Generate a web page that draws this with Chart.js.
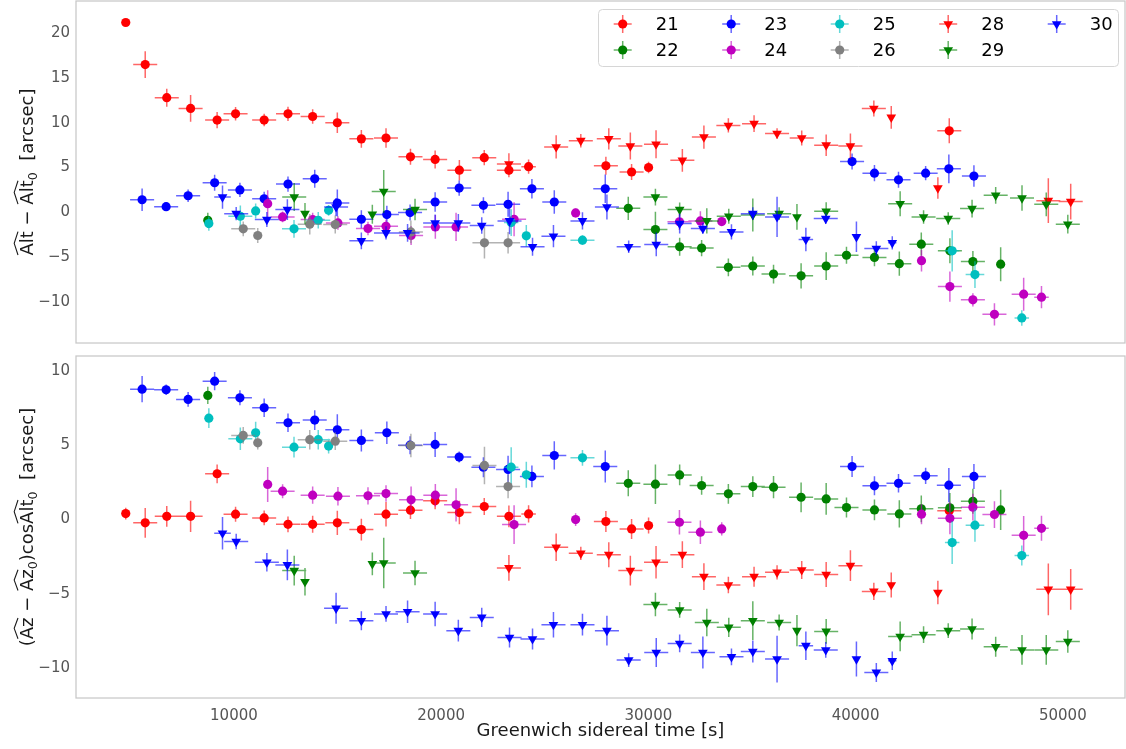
<!DOCTYPE html>
<html>
<head>
<meta charset="utf-8">
<title>Alt / Az residuals vs GST</title>
<script src="https://cdn.jsdelivr.net/npm/chart.js@4.4.1/dist/chart.umd.min.js"></script>
<style>
  html, body { margin: 0; padding: 0; background: #ffffff; }
  #wrap { position: relative; width: 1126px; height: 749px; overflow: hidden; }
  canvas { position: absolute; left: 0; }
</style>
</head>
<body>
<div id="wrap">
  <canvas id="altChart" width="1126" height="349" style="top:0"></canvas>
  <canvas id="azChart" width="1126" height="400" style="top:349px"></canvas>
</div>
<script>
// ---- data ----
const gstTicks = [10000, 20000, 30000, 40000, 50000]
const altTicks = [-10, -5, 0, 5, 10, 15, 20]
const azTicks = [-10, -5, 0, 5, 10]

const gst21 = [4780, 5720, 6760, 7910, 9190, 10080, 11460, 12610, 13800, 14990, 16150, 17340, 18520, 19710, 20880, 22080, 23270, 24220, 27950, 29190, 30010, 44520]
const gstErr21 = [100, 580, 580, 580, 580, 580, 580, 580, 580, 580, 580, 580, 580, 580, 580, 580, 580, 350, 580, 580, 100, 580]
const alt21 = [21.2, 16.5, 12.8, 11.6, 10.3, 11.0, 10.3, 11.0, 10.7, 10.0, 8.2, 8.3, 6.2, 5.9, 4.7, 6.1, 4.7, 5.1, 5.2, 4.5, 5.0, 9.1]
const altErr21 = [0.3, 1.5, 1.0, 1.5, 0.9, 0.75, 0.7, 0.8, 0.8, 1.15, 1.0, 1.1, 0.9, 1.0, 1.15, 0.85, 0.8, 0.8, 1.0, 0.9, 0.65, 1.4]
const az21 = [0.4, -0.22, 0.22, 0.22, 3.08, 0.36, 0.11, -0.32, -0.32, -0.22, -0.67, 0.36, 0.63, 1.26, 0.47, 0.88, 0.22, 0.38, -0.13, -0.63, -0.4, 0.6]
const azErr21 = [0.4, 1.0, 0.7, 1.05, 0.63, 0.5, 0.5, 0.53, 0.57, 0.82, 0.73, 0.82, 0.6, 0.56, 0.79, 0.57, 0.73, 0.58, 0.7, 0.67, 0.54, 0.5]

const gst22 = [8740, 29030, 30340, 31510, 32570, 33860, 35040, 36040, 37370, 38580, 39560, 40910, 42110, 43170, 44550, 45660, 47000]
const gstErr22 = [100, 580, 580, 580, 580, 580, 580, 580, 580, 580, 580, 580, 580, 580, 580, 580, 100]
const alt22 = [-0.89, 0.44, -1.93, -3.85, -4.0, -6.15, -6.0, -6.9, -7.1, -6.0, -4.8, -5.04, -5.74, -3.56, -4.3, -5.5, -5.8]
const altErr22 = [0.83, 1.3, 2.0, 1.0, 0.9, 1.0, 1.07, 1.05, 1.4, 1.55, 0.96, 1.0, 1.35, 1.3, 1.4, 1.17, 1.9]
const az22 = [8.35, 2.44, 2.38, 3.0, 2.29, 1.73, 2.22, 2.18, 1.5, 1.39, 0.81, 0.65, 0.38, 0.72, 0.79, 1.23, 0.65]
const azErr22 = [0.58, 0.88, 1.33, 0.7, 0.62, 0.67, 0.7, 0.75, 1.0, 1.07, 0.67, 0.7, 0.92, 0.9, 1.0, 0.84, 1.35]

const gst23 = [5570, 6730, 7790, 9070, 10290, 11460, 12610, 13900, 14990, 16150, 17380, 18500, 19710, 20870, 22040, 23230, 24380, 25460, 27920, 39830, 40910, 42070, 43380, 44500, 45710]
const gstErr23 = 580
const alt23 = [1.4, 0.63, 1.85, 3.3, 2.5, 1.5, 3.15, 3.74, 1.04, -0.78, -0.26, -0.03, 1.15, 2.7, 0.78, 0.89, 2.63, 1.15, 2.63, 5.67, 4.37, 3.63, 4.37, 4.85, 4.04]
const altErr23 = [1.25, 0.5, 0.7, 0.9, 0.8, 0.8, 0.85, 1.0, 1.5, 1.0, 1.0, 0.9, 1.1, 0.85, 0.9, 1.4, 1.1, 1.3, 1.6, 0.9, 0.9, 0.9, 0.8, 1.6, 1.2]
const az23 = [8.77, 8.73, 8.08, 9.31, 8.19, 7.52, 6.51, 6.69, 6.04, 5.32, 5.84, 5.0, 5.05, 4.2, 3.52, 3.37, 2.9, 4.31, 3.57, 3.57, 2.27, 2.44, 2.94, 2.31, 2.9]
const azErr23 = [0.88, 0.35, 0.5, 0.62, 0.5, 0.62, 0.62, 0.67, 1.05, 0.74, 0.75, 0.6, 0.84, 0.37, 0.67, 0.92, 0.73, 0.95, 1.07, 0.7, 0.64, 0.62, 0.54, 1.15, 0.84]

const gst24 = [11630, 12350, 13800, 15020, 16470, 17340, 18550, 19720, 20720, 23520, 26490, 31500, 32510, 33540, 43180, 44550, 45660, 46700, 48110, 48970]
const gstErr24 = [100, 580, 580, 580, 580, 580, 580, 580, 580, 580, 100, 580, 580, 100, 100, 580, 580, 580, 580, 350]
const alt24 = [0.96, -0.52, -0.81, -1.19, -1.81, -1.56, -2.59, -1.63, -1.63, -0.78, -0.07, -1.07, -0.96, -1.04, -5.41, -8.3, -9.78, -11.4, -9.15, -9.48]
const altErr24 = [1.5, 0.6, 0.75, 0.75, 0.75, 0.75, 1.07, 1.33, 1.57, 1.9, 0.5, 0.9, 1.07, 0.4, 1.2, 1.7, 0.75, 1.25, 1.85, 1.24]
const az24 = [2.36, 1.91, 1.64, 1.57, 1.6, 1.75, 1.33, 1.64, 0.99, -0.34, 0.0, -0.18, -0.85, -0.63, 0.36, 0.09, 0.83, 0.34, -1.06, -0.59]
const azErr24 = [1.18, 0.47, 0.58, 0.62, 0.58, 0.56, 0.9, 0.76, 1.12, 1.3, 0.43, 0.83, 0.79, 0.45, 0.67, 1.07, 0.9, 0.9, 1.3, 0.84]

const gst25 = [8790, 10310, 11050, 12900, 14070, 14570, 23380, 24110, 26820, 44660, 45760, 48020]
const gstErr25 = [100, 580, 100, 580, 580, 100, 350, 100, 580, 350, 450, 350]
const alt25 = [-1.26, -0.44, 0.15, -1.85, -0.89, 0.22, -1.15, -2.63, -3.11, -4.3, -6.96, -11.8]
const altErr25 = [0.8, 1.2, 0.83, 1.0, 0.93, 0.6, 1.5, 1.2, 0.55, 2.3, 1.5, 0.87]
const az25 = [6.82, 5.43, 5.84, 4.87, 5.37, 4.94, 3.52, 3.01, 4.15, -1.55, -0.38, -2.42]
const azErr25 = [0.67, 0.76, 0.73, 0.7, 0.65, 0.5, 1.35, 0.87, 0.53, 1.44, 1.12, 0.67]

const gst26 = [10450, 11150, 13660, 14890, 18540, 22090, 23230]
const gstErr26 = [580, 100, 580, 580, 580, 580, 580]
const alt26 = [-1.85, -2.59, -1.33, -1.37, -2.19, -3.41, -3.41]
const altErr26 = [0.83, 0.83, 1.15, 1.0, 1.26, 1.76, 1.2]
const az26 = [5.66, 5.16, 5.37, 5.27, 4.98, 3.64, 2.22]
const azErr26 = [0.56, 0.45, 0.65, 0.6, 0.79, 1.26, 0.79]

const gst28 = [23270, 25550, 26740, 28090, 29130, 30370, 31640, 32680, 33860, 35100, 36210, 37400, 38580, 39750, 40880, 41720, 43970, 49300, 50380]
const gstErr28 = [580, 580, 580, 580, 580, 580, 580, 580, 580, 580, 580, 580, 580, 580, 580, 100, 100, 580, 580]
const alt28 = [5.4, 7.3, 8.0, 8.2, 7.4, 7.6, 5.8, 8.4, 9.7, 9.9, 8.8, 8.3, 7.5, 7.4, 11.6, 10.6, 2.7, 1.3, 1.2]
const altErr28 = [1.2, 1.3, 0.75, 1.2, 1.5, 1.57, 1.26, 1.3, 0.8, 0.93, 0.6, 0.83, 1.2, 1.4, 0.9, 1.26, 1.2, 2.5, 2.0]
const az28 = [-3.25, -1.86, -2.27, -2.36, -3.43, -2.87, -2.36, -3.84, -4.4, -3.84, -3.55, -3.39, -3.7, -3.1, -4.83, -4.4, -4.9, -4.69, -4.69]
const azErr28 = [0.86, 0.92, 0.45, 0.84, 1.0, 1.09, 0.9, 0.9, 0.56, 0.67, 0.48, 0.6, 0.84, 1.03, 0.58, 0.84, 0.79, 1.74, 1.37]

const gst29 = [12910, 13430, 16680, 17230, 18740, 30340, 31510, 32820, 33880, 35040, 36310, 37170, 38580, 42150, 43280, 44470, 45620, 46760, 48030, 49200, 50240]
const gstErr29 = [580, 100, 100, 580, 580, 580, 580, 580, 580, 580, 580, 100, 580, 580, 580, 580, 580, 580, 580, 580, 580]
const alt29 = [1.7, -0.15, -0.22, 2.33, 0.3, 1.7, 0.3, -0.96, -0.44, -0.3, -0.15, -0.52, 0.11, 0.96, -0.52, -0.7, 0.41, 1.89, 1.59, 0.89, -1.33]
const altErr29 = [1.57, 1.2, 1.05, 2.4, 1.2, 0.93, 0.8, 1.4, 0.83, 1.85, 0.7, 1.44, 1.0, 1.4, 0.75, 0.7, 1.0, 0.93, 1.43, 1.33, 1.05]
const az29 = [-3.43, -4.18, -2.98, -2.92, -3.59, -5.72, -6.08, -6.92, -7.25, -6.8, -6.92, -7.47, -7.52, -7.86, -7.74, -7.47, -7.36, -8.55, -8.77, -8.77, -8.2]
const azErr29 = [1.0, 0.93, 0.76, 1.7, 0.82, 0.79, 0.53, 0.93, 0.64, 1.3, 0.54, 1.05, 0.84, 1.0, 0.56, 0.5, 0.7, 0.67, 1.0, 1.0, 0.75]

const gst30 = [9450, 10110, 11590, 12580, 14930, 16150, 17340, 18380, 19710, 20830, 21960, 23300, 24410, 25420, 26820, 28000, 29050, 30380, 31510, 32630, 34010, 35040, 36210, 37600, 38560, 40040, 41000, 41770]
const gstErr30 = [400, 580, 580, 580, 580, 580, 580, 580, 580, 580, 580, 580, 580, 580, 580, 580, 580, 580, 580, 580, 580, 580, 580, 350, 580, 100, 580, 200]
const alt30 = [1.7, -0.15, -0.81, 0.3, 0.59, -3.19, -2.3, -2.3, -1.19, -1.19, -1.48, -0.96, -3.85, -2.67, -0.96, 0.59, -3.85, -3.59, -1.26, -1.81, -2.19, -0.15, -0.52, -3.04, -0.7, -2.74, -4.04, -3.41]
const altErr30 = [1.3, 0.75, 0.83, 1.17, 1.0, 0.93, 0.75, 1.0, 0.93, 1.0, 0.93, 1.5, 1.0, 1.24, 0.96, 1.4, 0.7, 1.33, 1.1, 0.6, 0.85, 0.7, 2.25, 1.3, 0.6, 1.7, 0.8, 0.74]
const az30 = [-0.92, -1.48, -2.87, -3.05, -5.97, -6.8, -6.35, -6.2, -6.35, -7.47, -6.58, -7.93, -8.03, -7.07, -7.07, -7.47, -9.45, -8.94, -8.33, -8.94, -9.23, -8.87, -9.38, -8.48, -8.77, -9.38, -10.28, -9.5]
const azErr30 = [1.1, 0.52, 0.62, 1.03, 1.04, 0.64, 0.53, 0.76, 0.82, 0.73, 0.65, 0.67, 0.7, 0.86, 0.73, 1.0, 0.46, 0.98, 0.6, 1.07, 0.56, 0.74, 1.57, 0.96, 0.53, 1.18, 0.64, 0.62]

// ---- series table ----
const series = [
  { label: '21', rgb: '255,0,0', tri: false, gst: gst21, gErr: gstErr21, alt: alt21, altErr: altErr21, az: az21, azErr: azErr21 },
  { label: '22', rgb: '0,128,0', tri: false, gst: gst22, gErr: gstErr22, alt: alt22, altErr: altErr22, az: az22, azErr: azErr22 },
  { label: '23', rgb: '0,0,255', tri: false, gst: gst23, gErr: gstErr23, alt: alt23, altErr: altErr23, az: az23, azErr: azErr23 },
  { label: '24', rgb: '191,0,191', tri: false, gst: gst24, gErr: gstErr24, alt: alt24, altErr: altErr24, az: az24, azErr: azErr24 },
  { label: '25', rgb: '0,191,191', tri: false, gst: gst25, gErr: gstErr25, alt: alt25, altErr: altErr25, az: az25, azErr: azErr25 },
  { label: '26', rgb: '128,128,128', tri: false, gst: gst26, gErr: gstErr26, alt: alt26, altErr: altErr26, az: az26, azErr: azErr26 },
  { label: '28', rgb: '255,0,0', tri: true, gst: gst28, gErr: gstErr28, alt: alt28, altErr: altErr28, az: az28, azErr: azErr28 },
  { label: '29', rgb: '0,128,0', tri: true, gst: gst29, gErr: gstErr29, alt: alt29, altErr: altErr29, az: az29, azErr: azErr29 },
  { label: '30', rgb: '0,0,255', tri: true, gst: gst30, gErr: gstErr30, alt: alt30, altErr: altErr30, az: az30, azErr: azErr30 },
]

const FONT = '"DejaVu Sans", sans-serif'
Chart.defaults.font.family = FONT
const TICK_COLOR = '#555555'
const LABEL_COLOR = '#1a1a1a'

const fmtTick = (v) => String(v).replace('-', '\u2212')

function buildDatasets(valKey, errKey) {
  return series.map((s, i) => ({
    label: s.label,
    data: s.gst.map((g, k) => ({
      x: g,
      y: s[valKey][k],
      yErr: s[errKey][k],
      xErr: Array.isArray(s.gErr) ? s.gErr[k] : s.gErr,
    })),
    showLine: false,
    pointStyle: s.tri ? 'triangle' : 'circle',
    pointRotation: s.tri ? 180 : 0,
    pointRadius: s.tri ? 5.6 : 4.6,
    pointBackgroundColor: `rgb(${s.rgb})`,
    pointBorderColor: `rgb(${s.rgb})`,
    pointBorderWidth: 0,
    errColor: `rgba(${s.rgb},0.6)`,
    order: series.length - i,
  }))
}

// error bars, drawn just under each dataset's markers
const errorBars = {
  id: 'errorBars',
  beforeDatasetDraw(chart, args) {
    const ds = chart.data.datasets[args.index]
    const { ctx, chartArea: a, scales: { x, y } } = chart
    ctx.save()
    ctx.beginPath()
    ctx.rect(a.left, a.top, a.right - a.left, a.bottom - a.top)
    ctx.clip()
    ctx.strokeStyle = ds.errColor
    ctx.lineWidth = 1.5
    ctx.beginPath()
    ds.data.forEach((p) => {
      const px = x.getPixelForValue(p.x)
      const py = y.getPixelForValue(p.y)
      ctx.moveTo(x.getPixelForValue(p.x - p.xErr), py)
      ctx.lineTo(x.getPixelForValue(p.x + p.xErr), py)
      ctx.moveTo(px, y.getPixelForValue(p.y - p.yErr))
      ctx.lineTo(px, y.getPixelForValue(p.y + p.yErr))
    })
    ctx.stroke()
    ctx.restore()
  },
}

const frame = {
  id: 'frame',
  afterDraw(chart) {
    const { ctx, chartArea: a } = chart
    ctx.save()
    ctx.strokeStyle = '#c8c8c8'
    ctx.lineWidth = 1.25
    ctx.strokeRect(a.left, a.top, a.right - a.left, a.bottom - a.top)
    ctx.restore()
  },
}

// rotated y title with wide hats over some pieces
function drawHatTitle(ctx, parts, baseX, cy) {
  const big = `18px ${FONT}`
  const small = `12.6px ${FONT}`
  ctx.save()
  ctx.translate(baseX, cy)
  ctx.rotate(-Math.PI / 2)
  let total = 0
  parts.forEach((p) => {
    ctx.font = p.sub ? small : big
    p.w = ctx.measureText(p.t).width
    total += p.w
  })
  let x = -total / 2
  ctx.fillStyle = LABEL_COLOR
  ctx.strokeStyle = LABEL_COLOR
  ctx.lineWidth = 1.1
  ctx.textBaseline = 'alphabetic'
  ctx.textAlign = 'left'
  parts.forEach((p) => {
    ctx.font = p.sub ? small : big
    ctx.fillText(p.t, x, p.sub ? 4 : 0)
    if (p.hat) {
      ctx.beginPath()
      ctx.moveTo(x + 0.5, -15)
      ctx.lineTo(x + p.w / 2, -18.8)
      ctx.lineTo(x + p.w - 0.5, -15)
      ctx.stroke()
    }
    x += p.w
  })
  ctx.restore()
}

const axisTitles = {
  id: 'axisTitles',
  afterDraw(chart, args, opts) {
    const { ctx, chartArea: a } = chart
    if (opts.yParts) drawHatTitle(ctx, opts.yParts, 33, (a.top + a.bottom) / 2)
    if (opts.xText) {
      ctx.save()
      ctx.font = `18px ${FONT}`
      ctx.fillStyle = LABEL_COLOR
      ctx.textAlign = 'center'
      ctx.textBaseline = 'middle'
      ctx.fillText(opts.xText, (a.left + a.right) / 2, a.bottom + 33)
      ctx.restore()
    }
  },
}

const legendBox = {
  id: 'legendBox',
  afterDraw(chart) {
    const ctx = chart.ctx
    ctx.save()
    ctx.beginPath()
    ctx.roundRect(598.5, 9.5, 520, 57, 4)
    ctx.fillStyle = 'rgba(255,255,255,0.85)'
    ctx.fill()
    ctx.strokeStyle = '#d6d6d6'
    ctx.lineWidth = 1
    ctx.stroke()
    series.forEach((s, i) => {
      const col = Math.floor(i / 2)
      const row = i % 2
      const mx = 622.7 + col * 108.5
      const my = 24 + row * 26
      ctx.strokeStyle = `rgba(${s.rgb},0.6)`
      ctx.lineWidth = 1.5
      ctx.beginPath()
      ctx.moveTo(mx - 9, my); ctx.lineTo(mx + 9, my)
      ctx.moveTo(mx, my - 9); ctx.lineTo(mx, my + 9)
      ctx.stroke()
      ctx.fillStyle = `rgb(${s.rgb})`
      ctx.beginPath()
      if (s.tri) {
        const r = 5.6
        ctx.moveTo(mx, my + r)
        ctx.lineTo(mx - r * 0.866, my - r / 2)
        ctx.lineTo(mx + r * 0.866, my - r / 2)
        ctx.closePath()
      } else {
        ctx.arc(mx, my, 4.6, 0, Math.PI * 2)
      }
      ctx.fill()
      ctx.fillStyle = '#000000'
      ctx.font = `18px ${FONT}`
      ctx.textAlign = 'left'
      ctx.textBaseline = 'middle'
      ctx.fillText(s.label, mx + 33, my + 1)
    })
    ctx.restore()
  },
}

// keep Chart.js from insetting the plot area for half tick labels
function noEdgePadding(s) {
  s.paddingTop = 0
  s.paddingBottom = 0
  s.paddingLeft = 0
  s.paddingRight = 0
}

const yTickOpts = { padding: 6, color: TICK_COLOR, font: { size: 15 }, callback: fmtTick }

new Chart(document.getElementById('altChart'), {
  type: 'scatter',
  data: { datasets: buildDatasets('alt', 'altErr') },
  plugins: [errorBars, frame, axisTitles, legendBox],
  options: {
    responsive: false,
    animation: false,
    events: [],
    layout: { autoPadding: false, padding: { top: 1, right: 1, bottom: 6, left: 0 } },
    plugins: {
      legend: { display: false },
      tooltip: { enabled: false },
      axisTitles: {
        yParts: [
          { t: 'Alt', hat: true }, { t: ' \u2212 ' }, { t: 'Alt', hat: true }, { t: '0', sub: true },
          { t: '  [arcsec]' },
        ],
      },
    },
    scales: {
      x: { type: 'linear', min: 2380, max: 53000, display: false, afterFit: noEdgePadding },
      y: {
        type: 'linear', min: -14.6, max: 23.6,
        grid: { display: false, drawTicks: false },
        border: { display: false },
        afterBuildTicks: (s) => { s.ticks = altTicks.map((v) => ({ value: v })) },
        afterFit: (s) => { s.width = 76; noEdgePadding(s) },
        ticks: yTickOpts,
      },
    },
  },
})

new Chart(document.getElementById('azChart'), {
  type: 'scatter',
  data: { datasets: buildDatasets('az', 'azErr') },
  plugins: [errorBars, frame, axisTitles],
  options: {
    responsive: false,
    animation: false,
    events: [],
    layout: { autoPadding: false, padding: { top: 7, right: 1, bottom: 0, left: 0 } },
    plugins: {
      legend: { display: false },
      tooltip: { enabled: false },
      axisTitles: {
        yParts: [
          { t: '(' }, { t: 'Az', hat: true }, { t: ' \u2212 ' }, { t: 'Az', hat: true }, { t: '0', sub: true },
          { t: ')cos' }, { t: 'Alt', hat: true }, { t: '0', sub: true }, { t: '  [arcsec]' },
        ],
        xText: 'Greenwich sidereal time [s]',
      },
    },
    scales: {
      x: {
        type: 'linear', min: 2380, max: 53000,
        grid: { display: false, drawTicks: false },
        border: { display: false },
        afterBuildTicks: (s) => { s.ticks = gstTicks.map((v) => ({ value: v })) },
        afterFit: (s) => { s.height = 51; noEdgePadding(s) },
        ticks: { padding: 9, color: TICK_COLOR, font: { size: 15 }, maxRotation: 0, callback: (v) => String(v) },
      },
      y: {
        type: 'linear', min: -12.0, max: 11.0,
        grid: { display: false, drawTicks: false },
        border: { display: false },
        afterBuildTicks: (s) => { s.ticks = azTicks.map((v) => ({ value: v })) },
        afterFit: (s) => { s.width = 76; noEdgePadding(s) },
        ticks: yTickOpts,
      },
    },
  },
})
</script>
</body>
</html>
